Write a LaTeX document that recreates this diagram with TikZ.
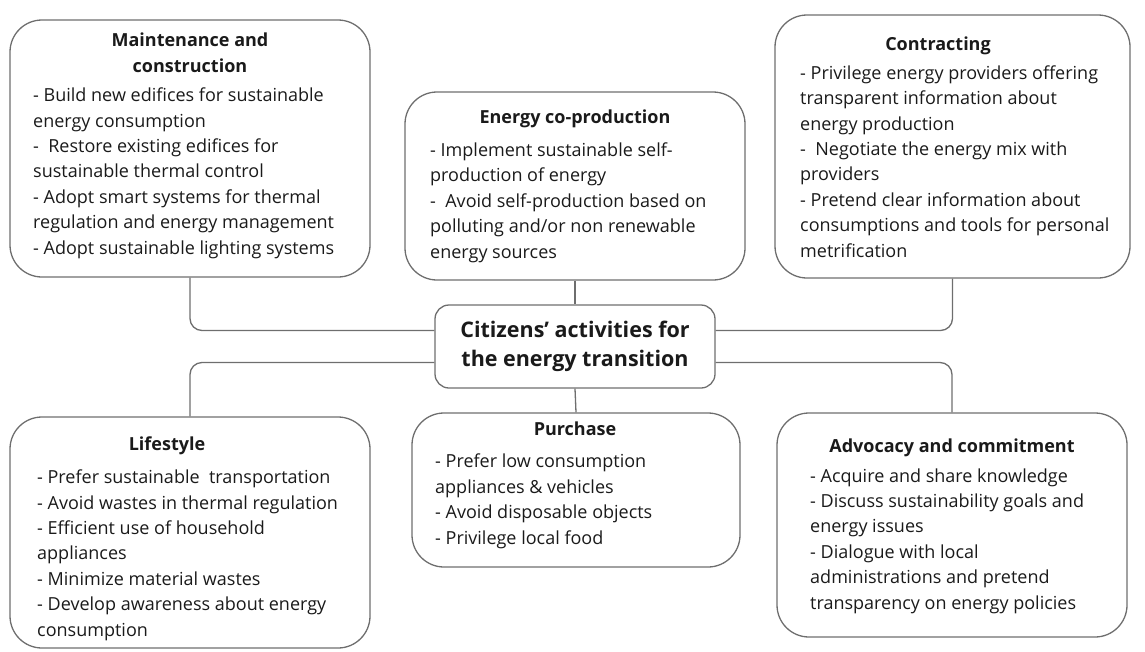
\documentclass[tikz,border=0pt]{standalone}
\usepackage{fontspec}
\setmainfont{Open Sans}
\begin{document}
\definecolor{edge}{HTML}{6E6E6E}
\definecolor{ink}{HTML}{1A1A1A}
\begin{tikzpicture}[x=1pt,y=-1pt,
  box/.style={draw=edge, line width=1.3pt, rounded corners=32pt, inner sep=0pt},
  hub/.style={draw=edge, line width=1.3pt, rounded corners=14pt, inner sep=0pt},
  link/.style={draw=edge, line width=1.3pt, rounded corners=12pt},
  head/.style={font=\fontsize{18}{26}\selectfont\bfseries, text=ink, inner sep=0pt, align=center},
  body/.style={font=\fontsize{18}{25.4}\selectfont, text=ink, inner sep=0pt, align=left},
]
\useasboundingbox (0,0) rectangle (1145,651);

% boxes
\node[box, minimum width=360pt, minimum height=257pt] (mc) at (190,148.5) {};
\node[box, minimum width=340pt, minimum height=188pt] (ec) at (575,186) {};
\node[box, minimum width=355pt, minimum height=263pt] (ct) at (952.5,146.5) {};
\node[box, minimum width=360pt, minimum height=231pt] (ls) at (190,532.5) {};
\node[box, minimum width=328pt, minimum height=154pt] (pu) at (576,490) {};
\node[box, minimum width=350pt, minimum height=224pt] (ad) at (952,525) {};
\node[hub, minimum width=280pt, minimum height=83pt] (hub) at (575,346.5) {};

% central title
\node[font=\fontsize{21.5}{29}\selectfont\bfseries, text=ink, align=center, inner sep=0pt] (hubtxt) at (575,346.5)
  {Citizens' activities for\\the energy transition};

% headings (base = baseline of the last line)
\node[head, anchor=base] (mch) at (190,72) {Maintenance and\\construction};
\node[head, anchor=base] (ech) at (575,123) {Energy co-production};
\node[head, anchor=base] (cth) at (938,50) {Contracting};
\node[head, anchor=base] (lsh) at (167,450) {Lifestyle};
\node[head, anchor=base] (puh) at (575,435) {Purchase};
\node[head, anchor=base] (adh) at (952,452) {Advocacy and commitment};

% item lists (base = baseline of the last line)
\node[body, anchor=base west] (mcb) at (33,254) {- Build new edifices for sustainable\\energy consumption\\-\ \ Restore existing edifices for\\sustainable thermal control\\- Adopt smart systems for thermal\\regulation and energy management\\- Adopt sustainable lighting systems};
\node[body, anchor=base west] (ecb) at (430,258) {- Implement sustainable self-\\production of energy\\-\ \ Avoid self-production based on\\polluting and/or non renewable\\energy sources};
\node[body, anchor=base west] (ctb) at (800,257) {- Privilege energy providers offering\\transparent information about\\energy production\\-\ \ Negotiate the energy mix with\\providers\\- Pretend clear information about\\consumptions and tools for personal\\metrification};
\node[body, anchor=base west] (lsb) at (37,636) {- Prefer sustainable\ \ transportation\\- Avoid wastes in thermal regulation\\- Efficient use of household\\appliances\\- Minimize material wastes\\- Develop awareness about energy\\consumption};
\node[body, anchor=base west] (pub) at (435,544) {- Prefer low consumption\\appliances \& vehicles\\- Avoid disposable objects\\- Privilege local food};
\node[body, anchor=base west] (adb) at (810,609) {- Acquire and share knowledge\\- Discuss sustainability goals and\\energy issues\\- Dialogue with local\\administrations and pretend\\transparency on energy policies};

% connectors
\draw[link] (ec.south) -- (hub.north);
\draw[link] (pu.north) -- (hub.south);
\draw[link] (mc.south) |- ([yshift=16pt]hub.west);
\draw[link] (ct.south) |- ([yshift=16pt]hub.east);
\draw[link] (ls.north) |- ([yshift=-16pt]hub.west);
\draw[link] (ad.north) |- ([yshift=-16pt]hub.east);
\end{tikzpicture}
\end{document}
